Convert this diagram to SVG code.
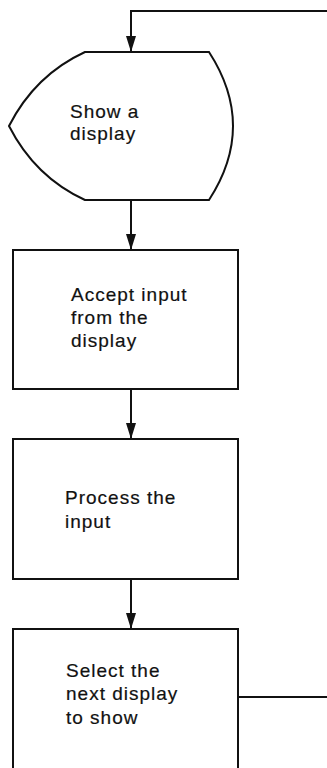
<svg xmlns="http://www.w3.org/2000/svg" width="327" height="768" viewBox="0 0 327 768">
  <style>
    .shape { fill: #fff; stroke: #111; stroke-width: 2; }
    .wire { fill: none; stroke: #111; stroke-width: 2; }
    .label { font-family: "Liberation Sans", Arial, sans-serif; font-size: 19px; letter-spacing: 1px; fill: #111; stroke: #111; stroke-width: 0.2; }
  </style>
  <defs>
    <marker id="arrow" markerUnits="userSpaceOnUse" markerWidth="17" markerHeight="10" refX="16" refY="5" orient="auto" viewBox="0 0 16 10">
      <path d="M0,0 L16,5 L0,10 Z" fill="#111"/>
    </marker>
  </defs>
  <rect width="327" height="768" fill="#fff"/>

  <!-- connectors -->
  <g id="connectors">
    <path class="wire" d="M327,697 L238,697"/>
    <path class="wire" d="M327,11 L131,11 L131,52" marker-end="url(#arrow)"/>
    <path class="wire" d="M131,200 L131,250" marker-end="url(#arrow)"/>
    <path class="wire" d="M131,389 L131,439" marker-end="url(#arrow)"/>
    <path class="wire" d="M131,579 L131,629" marker-end="url(#arrow)"/>
  </g>

  <!-- display symbol -->
  <g id="show-display">
    <path class="shape" d="M85,52 L209,52 Q257,126 209,200 L85,200 Q35,177 9,126 Q35,75 85,52 Z"/>
    <text class="label" x="70" y="118">Show a</text>
    <text class="label" x="70" y="140">display</text>
  </g>

  <g id="accept-input">
    <rect class="shape" x="13" y="250" width="225" height="139"/>
    <text class="label" x="71" y="301">Accept input</text>
    <text class="label" x="71" y="324">from the</text>
    <text class="label" x="71" y="347">display</text>
  </g>

  <g id="process-input">
    <rect class="shape" x="13" y="439" width="225" height="140"/>
    <text class="label" x="65" y="504">Process the</text>
    <text class="label" x="65" y="528">input</text>
  </g>

  <g id="select-next">
    <rect class="shape" x="13" y="629" width="225" height="160"/>
    <text class="label" x="66" y="677">Select the</text>
    <text class="label" x="66" y="700">next display</text>
    <text class="label" x="66" y="724">to show</text>
  </g>
</svg>
